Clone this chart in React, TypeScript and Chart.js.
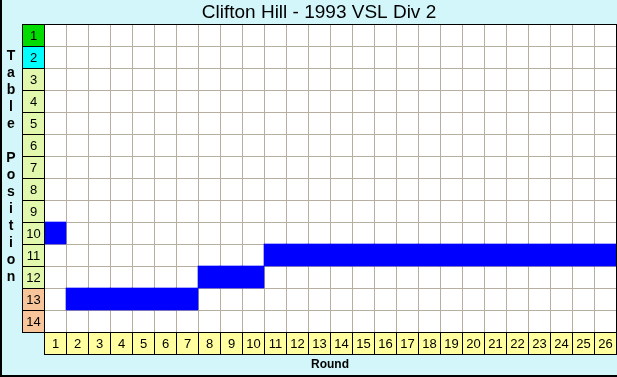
import React, { useEffect, useRef } from "react";
import { Chart, registerables } from "chart.js";

Chart.register(...registerables);

const TITLE = "Clifton Hill - 1993 VSL Div 2";
const X_TITLE = "Round";
const Y_TITLE = "Table Position";
const rounds = Array.from({ length: 26 }, (_, i) => String(i + 1));
const positions = [10, 13, 13, 13, 13, 13, 13, 12, 12, 12, 11, 11, 11, 11, 11, 11, 11, 11, 11, 11, 11, 11, 11, 11, 11, 11];
const positionLabels = ["1", "2", "3", "4", "5", "6", "7", "8", "9", "10", "11", "12", "13", "14"];
const positionColors = [
  "#00DC00", "#00FFFF",
  "#E2F8AC", "#E2F8AC", "#E2F8AC", "#E2F8AC", "#E2F8AC", "#E2F8AC", "#E2F8AC", "#E2F8AC", "#E2F8AC", "#E2F8AC",
  "#F8C49A", "#F8C49A",
];
const ROUND_CELL = "#FFFFA0";
const BG = "#D2F6FA";
const GRID = "#B6AE9E";

export default function App() {
  const ref = useRef<HTMLCanvasElement | null>(null);
  useEffect(() => {
    document.body.style.margin = "0";
    const cv = ref.current!;
    const deco = {
      id: "deco",
      beforeDraw(chart: any) {
        const { ctx, chartArea: a } = chart;
        ctx.save();
        ctx.fillStyle = BG;
        ctx.fillRect(0, 0, chart.width, chart.height);
        ctx.fillStyle = "#FFFFFF";
        ctx.fillRect(a.left, a.top, a.right - a.left, a.bottom - a.top);
        ctx.restore();
      },
      afterDraw(chart: any) {
        const { ctx, chartArea: a, scales } = chart;
        const ys = scales.y;
        const xs = scales.x;
        ctx.save();
        ctx.lineWidth = 1;
        ctx.strokeStyle = "#000";
        ctx.textAlign = "center";
        ctx.textBaseline = "middle";
        ctx.font = "13px 'Liberation Sans', Arial, sans-serif";
        const cw = 22;
        for (let i = 0; i < positionLabels.length; i++) {
          const p = i + 1;
          const t = Math.round(ys.getPixelForValue(p - 0.5));
          const b = Math.round(ys.getPixelForValue(p + 0.5));
          const l = a.left - cw;
          ctx.fillStyle = positionColors[i];
          ctx.fillRect(l, t, cw, b - t);
          ctx.strokeRect(l + 0.5, t + 0.5, cw, b - t);
          ctx.fillStyle = "#000";
          ctx.fillText(positionLabels[i], l + cw / 2 + 0.5, (t + b) / 2 + 1);
        }
        for (let i = 0; i < rounds.length; i++) {
          const c = xs.getPixelForValue(i);
          const half = (xs.getPixelForValue(1) - xs.getPixelForValue(0)) / 2;
          const l = Math.round(c - half);
          const r = Math.round(c + half);
          const t = a.bottom;
          ctx.fillStyle = ROUND_CELL;
          ctx.fillRect(l, t, r - l, 22);
          ctx.strokeRect(l + 0.5, t + 0.5, r - l, 22);
          ctx.fillStyle = "#000";
          ctx.fillText(rounds[i], (l + r) / 2 + 0.5, t + 12);
        }
        ctx.strokeRect(a.left + 0.5, a.top + 0.5, a.right - a.left, a.bottom - a.top);
        ctx.font = "19px 'Liberation Sans', Arial, sans-serif";
        ctx.fillText(TITLE, 319, 13);
        ctx.font = "bold 12px 'Liberation Sans', Arial, sans-serif";
        ctx.fillText(X_TITLE, (a.left + a.right) / 2, 365);
        ctx.font = "bold 14px 'Liberation Sans', Arial, sans-serif";
        const letters = Y_TITLE.split("");
        letters.forEach((ch, i) => {
          if (ch !== " ") ctx.fillText(ch, 11, 56 + i * 17);
        });
        ctx.fillStyle = "#000";
        ctx.fillRect(0, 0, 2, chart.height);
        ctx.fillRect(0, chart.height - 2, chart.width, 2);
        ctx.restore();
      },
    };
    const chart = new Chart(cv, {
      type: "bar",
      data: {
        labels: rounds,
        datasets: [
          {
            data: positions.map((p) => [p - 0.5, p + 0.5]) as any,
            backgroundColor: "#0000FF",
            borderWidth: 0,
            barPercentage: 1,
            categoryPercentage: 1,
          },
        ],
      },
      options: {
        animation: false,
        responsive: false,
        devicePixelRatio: 1,
        layout: { padding: { top: 24, right: 1, left: 0, bottom: 0 } },
        plugins: { legend: { display: false }, tooltip: { enabled: false }, title: { display: false } },
        scales: {
          x: {
            offset: true,
            grid: { offset: true, color: GRID, drawTicks: false, lineWidth: 1 },
            border: { display: false },
            ticks: { display: false },
            afterFit: (s: any) => { s.height = 45; },
          },
          y: {
            type: "linear",
            reverse: true,
            min: 0.5,
            max: 14.5,
            grid: { color: GRID, drawTicks: false, lineWidth: 1 },
            border: { display: false },
            ticks: { display: false },
            afterBuildTicks: (s: any) => {
              s.ticks = positionLabels.map((_, i) => ({ value: i + 0.5 })).concat([{ value: 14.5 }]);
            },
            afterFit: (s: any) => { s.width = 44; },
          },
        },
      },
      plugins: [deco],
    });
    return () => chart.destroy();
  }, []);
  return (
    <div style={{ position: "absolute", left: 0, top: 0, width: 617, height: 377 }}>
      <canvas ref={ref} width={617} height={377} style={{ width: 617, height: 377, display: "block" }} />
    </div>
  );
}
